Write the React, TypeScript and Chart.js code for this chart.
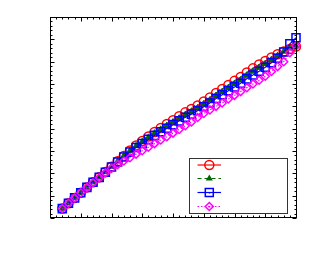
import React, { useEffect, useRef } from 'react';
import { Chart, registerables } from 'chart.js';

Chart.register(...registerables);

// ---- data ----
const xValues = [2, 3, 4, 5, 6, 7, 8, 9, 10, 11, 12, 13, 14, 15, 16, 17, 18, 19, 20, 21, 22, 23, 24, 25, 26, 27, 28, 29, 30, 31, 32, 33, 34, 35, 36, 37, 38, 39, 40];

const seriesRed = [4.2, 6.6, 9.0, 11.3, 13.7, 16.0, 18.2, 20.6, 23.0, 25.4, 27.8, 30.2, 32.5, 34.5, 36.5, 38.5, 40.3, 42.1, 43.8, 45.6, 47.3, 48.8, 50.4, 52.2, 54.0, 56.0, 57.8, 59.6, 61.4, 63.1, 65.2, 67.0, 68.7, 70.3, 71.9, 73.3, 74.5, 75.7, 76.8];

const seriesGreen = [4.2, 6.6, 9.0, 11.3, 13.7, 16.0, 18.2, 20.6, 23.0, 25.4, 27.8, 30.1, 32.3, 34.2, 36.1, 38.0, 39.7, 41.4, 43.0, 44.7, 46.3, 47.8, 49.3, 51.1, 52.8, 54.8, 56.5, 58.3, 60.1, 61.8, 63.9, 65.7, 67.4, 69.1, 70.9, 72.7, 74.6, 76.0, 77.0];

const seriesBlue = [4.2, 6.6, 9.0, 11.3, 13.7, 16.0, 18.2, 20.5, 22.8, 25.1, 27.3, 29.5, 31.6, 33.4, 35.2, 37.0, 38.6, 40.2, 41.8, 43.5, 45.1, 46.5, 48.0, 49.8, 51.5, 53.5, 55.2, 57.0, 58.7, 60.3, 62.3, 64.0, 65.7, 67.5, 69.5, 71.5, 74.3, 78.0, 80.7];

const seriesMagenta = [4.2, 6.6, 9.0, 11.3, 13.6, 15.8, 18.0, 20.2, 22.2, 23.9, 25.5, 27.0, 28.6, 30.1, 31.7, 33.3, 34.9, 36.4, 38.0, 39.6, 41.3, 43.0, 45.0, 46.8, 48.4, 50.0, 51.5, 53.3, 54.9, 56.6, 58.3, 60.0, 61.7, 63.5, 65.6, 67.8, 70.0, 74.0, 77.0];

const legendLabels = ['', '', '', ''];

// axis ranges / tick steps (no tick labels shown)
const X_MIN = 0, X_MAX = 40, X_MAJOR = 5, X_MINOR = 1;
const Y_MIN = 0, Y_MAX = 90, Y_MAJOR = 10, Y_MINOR = 2;

const RED = '#ff0000';
const GREEN = '#006600';
const BLUE = '#0000ff';
const MAGENTA = '#ff00ff';

function isMajor(v: number, step: number) {
  const r = v / step;
  return Math.abs(r - Math.round(r)) < 1e-6;
}

const framePlugin = {
  id: 'frameTicks',
  afterDatasetsDraw(chart: any) {
    const { ctx, chartArea: a, scales } = chart;
    const xs = scales.x, ys = scales.y;
    const L = Math.round(a.left) + 0.5;
    const R = Math.round(a.right) + 0.5;
    const T = Math.round(a.top) + 0.5;
    const B = Math.round(a.bottom) - 0.5;
    ctx.save();
    ctx.strokeStyle = '#000';
    ctx.lineWidth = 1;
    ctx.beginPath();
    for (let v = X_MIN; v <= X_MAX + 1e-9; v += X_MINOR) {
      const len = isMajor(v, X_MAJOR) ? 4 : 2;
      const px = Math.round(xs.getPixelForValue(v)) + 0.5;
      ctx.moveTo(px, B);
      ctx.lineTo(px, B - len);
      ctx.moveTo(px, T);
      ctx.lineTo(px, T + len);
    }
    for (let v = Y_MIN; v <= Y_MAX + 1e-9; v += Y_MINOR) {
      const len = isMajor(v, Y_MAJOR) ? 4 : 2;
      const py = Math.round(ys.getPixelForValue(v)) + 0.5;
      ctx.moveTo(L, py);
      ctx.lineTo(L + len, py);
      ctx.moveTo(R, py);
      ctx.lineTo(R - len, py);
    }
    ctx.stroke();
    ctx.strokeRect(L, T, R - L, B - T);
    ctx.restore();
  },
};

function drawMarker(ctx: CanvasRenderingContext2D, kind: string, x: number, y: number, color: string) {
  ctx.save();
  ctx.strokeStyle = color;
  ctx.fillStyle = color;
  ctx.lineWidth = 1.5;
  ctx.setLineDash([]);
  ctx.beginPath();
  if (kind === 'circle') {
    ctx.arc(x, y, 4.5, 0, Math.PI * 2);
    ctx.stroke();
  } else if (kind === 'triangle') {
    ctx.moveTo(x, y - 4);
    ctx.lineTo(x + 3.5, y + 2);
    ctx.lineTo(x - 3.5, y + 2);
    ctx.closePath();
    ctx.fill();
  } else if (kind === 'rect') {
    ctx.rect(x - 4, y - 4, 8, 8);
    ctx.stroke();
    ctx.fillRect(x - 0.5, y - 0.5, 1.5, 1.5);
  } else {
    ctx.moveTo(x, y - 4);
    ctx.lineTo(x + 4, y);
    ctx.lineTo(x, y + 4);
    ctx.lineTo(x - 4, y);
    ctx.closePath();
    ctx.stroke();
    ctx.fillRect(x - 0.5, y - 0.5, 1.5, 1.5);
  }
  ctx.restore();
}

const legendPlugin = {
  id: 'boxLegend',
  afterDraw(chart: any) {
    const { ctx } = chart;
    const bx = 189.5, by = 158.5, bw = 98, bh = 55;
    ctx.save();
    ctx.fillStyle = '#ffffff';
    ctx.fillRect(bx, by, bw, bh);
    ctx.strokeStyle = '#333333';
    ctx.lineWidth = 1;
    ctx.strokeRect(bx, by, bw, bh);
    const items = [
      { color: RED, dash: [] as number[], kind: 'circle' },
      { color: GREEN, dash: [4, 3], kind: 'triangle' },
      { color: BLUE, dash: [] as number[], kind: 'rect' },
      { color: MAGENTA, dash: [1.5, 2], kind: 'diamond' },
    ];
    const rows = [165, 178.5, 192.5, 206.5];
    items.forEach((it, i) => {
      const y = rows[i];
      ctx.save();
      ctx.strokeStyle = it.color;
      ctx.lineWidth = 1.2;
      ctx.setLineDash(it.dash);
      ctx.beginPath();
      ctx.moveTo(197.5, y);
      ctx.lineTo(221, y);
      ctx.stroke();
      ctx.restore();
      drawMarker(ctx, it.kind, 209.3, y, it.color);
      ctx.fillStyle = '#000';
      ctx.font = '10px "DejaVu Sans"';
      ctx.textBaseline = 'middle';
      ctx.fillText(legendLabels[i], 226, y);
    });
    ctx.restore();
  },
};

function toPoints(ys: number[]) {
  return xValues.map((x, i) => ({ x, y: ys[i] }));
}

export default function App() {
  const canvasRef = useRef<HTMLCanvasElement | null>(null);

  useEffect(() => {
    const canvas = canvasRef.current;
    if (!canvas) return;
    const chart = new Chart(canvas, {
      type: 'line',
      data: {
        datasets: [
          {
            data: toPoints(seriesRed),
            borderColor: RED,
            borderWidth: 1.2,
            pointStyle: 'circle',
            pointRadius: 4.5,
            pointBorderColor: RED,
            pointBackgroundColor: 'rgba(0,0,0,0)',
            pointBorderWidth: 1.5,
            clip: false,
            order: 4,
          } as any,
          {
            data: toPoints(seriesGreen),
            borderColor: GREEN,
            borderWidth: 1.2,
            borderDash: [4, 3],
            pointStyle: 'triangle',
            pointRadius: 3.5,
            pointBorderColor: GREEN,
            pointBackgroundColor: GREEN,
            pointBorderWidth: 1,
            clip: false,
            order: 3,
          } as any,
          {
            data: toPoints(seriesBlue),
            borderColor: BLUE,
            borderWidth: 1.2,
            pointStyle: 'rect',
            pointRadius: 5.7,
            pointBorderColor: BLUE,
            pointBackgroundColor: 'rgba(0,0,0,0)',
            pointBorderWidth: 1.5,
            clip: false,
            order: 2,
          } as any,
          {
            data: toPoints(seriesMagenta),
            borderColor: MAGENTA,
            borderWidth: 1.2,
            borderDash: [1.5, 2],
            pointStyle: 'rectRot',
            pointRadius: 4,
            pointBorderColor: MAGENTA,
            pointBackgroundColor: 'rgba(0,0,0,0)',
            pointBorderWidth: 1.5,
            clip: false,
            order: 1,
          } as any,
        ],
      },
      options: {
        responsive: false,
        animation: false,
        devicePixelRatio: 1,
        layout: { padding: { left: 50, top: 17, right: 17, bottom: 45 } },
        plugins: {
          legend: { display: false },
          tooltip: { enabled: false },
        },
        elements: { line: { tension: 0 } },
        scales: {
          x: { type: 'linear', min: X_MIN, max: X_MAX, display: false },
          y: { type: 'linear', min: Y_MIN, max: Y_MAX, display: false },
        },
      },
      plugins: [framePlugin, legendPlugin],
    });
    return () => chart.destroy();
  }, []);

  return (
    <div style={{ position: 'absolute', left: 0, top: 0, width: 313, height: 263, background: '#fff' }}>
      <canvas ref={canvasRef} width={313} height={263} style={{ display: 'block', width: 313, height: 263 }} />
    </div>
  );
}
